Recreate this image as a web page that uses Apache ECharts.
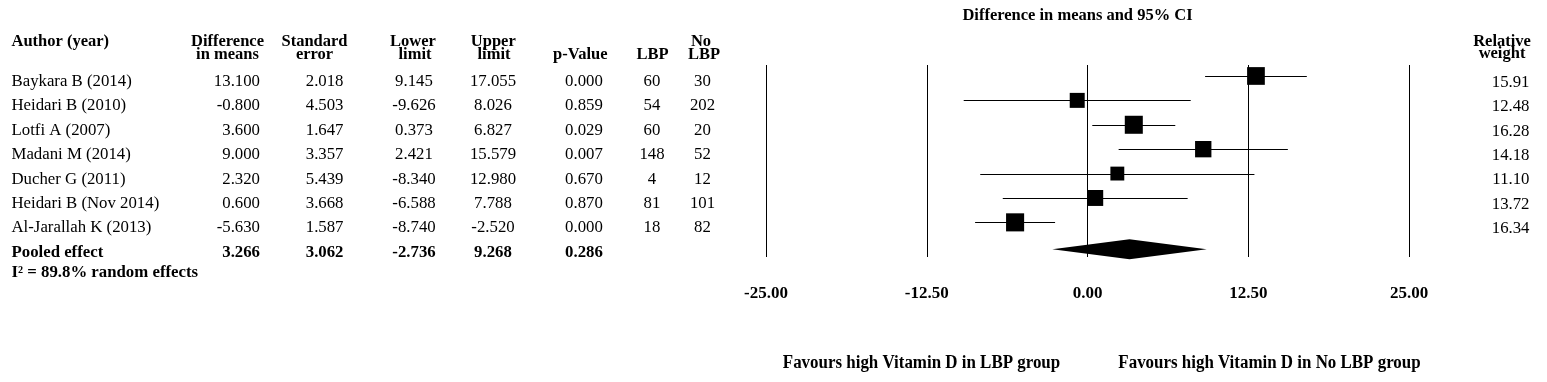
<!DOCTYPE html>
<html><head><meta charset="utf-8">
<script src="https://cdn.jsdelivr.net/npm/echarts@6/dist/echarts.min.js"></script>
<style>html,body{margin:0;padding:0;background:#fff}#c{width:1547px;height:382px}</style>
</head><body><div id="c"></div>
<script>
// ---- data ----
const authors = ['Baykara B (2014)', 'Heidari B (2010)', 'Lotfi A (2007)', 'Madani M (2014)', 'Ducher G (2011)', 'Heidari B (Nov 2014)', 'Al-Jarallah K (2013)'];
const diffMeans = [13.100, -0.800, 3.600, 9.000, 2.320, 0.600, -5.630];
const stdErr = [2.018, 4.503, 1.647, 3.357, 5.439, 3.668, 1.587];
const lowerLimit = [9.145, -9.626, 0.373, 2.421, -8.340, -6.588, -8.740];
const upperLimit = [17.055, 8.026, 6.827, 15.579, 12.980, 7.788, -2.520];
const pValues = [0.000, 0.859, 0.029, 0.007, 0.670, 0.870, 0.000];
const nLBP = [60, 54, 60, 148, 4, 81, 18];
const nNoLBP = [30, 202, 20, 52, 12, 101, 82];
const relWeight = [15.91, 12.48, 16.28, 14.18, 11.10, 13.72, 16.34];
const pooledLabel = 'Pooled effect';
const pooledRow = [3.266, 3.062, -2.736, 9.268, 0.286]; // diff, se, lower, upper, p
const heterogeneityText = 'I\u00B2 = 89.8% random effects';
const xTickMin = -25, xTickMax = 25, xTickStep = 12.5;
const plotTitle = 'Difference in means and 95% CI';
const favoursLeft = 'Favours high Vitamin D in LBP group';
const favoursRight = 'Favours high Vitamin D in No LBP group';

// ---- chart ----
const FONT = '"Liberation Serif", "Times New Roman", serif';
const chart = echarts.init(document.getElementById('c'), null, {renderer: 'canvas'});
const pooledIndex = authors.length;

const ciData = authors.map((a, i) => [lowerLimit[i], upperLimit[i], i]);
const ptData = authors.map((a, i) => [diffMeans[i], i, relWeight[i]]);

chart.setOption({
  backgroundColor: '#fff',
  animation: false,
  grid: {left: 766, width: 643, top: 65, height: 192, containLabel: false},
  xAxis: {
    type: 'value', min: xTickMin, max: xTickMax, interval: xTickStep,
    axisLine: {show: false}, axisTick: {show: false},
    splitLine: {show: true, showMinLine: true, showMaxLine: true, lineStyle: {color: '#000', width: 1, type: 'solid'}},
    axisLabel: {formatter: v => v.toFixed(2), fontFamily: FONT, fontWeight: 'bold', fontSize: 17, color: '#000', margin: 28}
  },
  yAxis: {type: 'value', inverse: true, min: -0.45, max: 7.42, show: false, splitLine: {show: false}},
  series: [
    {
      type: 'custom', name: 'ci', data: ciData, z: 2,
      renderItem: (params, api) => {
        const p1 = api.coord([api.value(0), api.value(2)]);
        const p2 = api.coord([api.value(1), api.value(2)]);
        return {type: 'line', shape: {x1: p1[0], y1: Math.round(p1[1]) + 0.5, x2: p2[0], y2: Math.round(p2[1]) + 0.5}, style: {stroke: '#000', lineWidth: 1}};
      }
    },
    {
      type: 'scatter', name: 'study', data: ptData, z: 3, symbol: 'rect',
      symbolSize: v => v[2] * 0.8 + 5,
      itemStyle: {color: '#000', opacity: 1}
    },
    {
      type: 'custom', name: 'pooled', z: 3,
      data: [[pooledRow[2], pooledRow[0], pooledRow[3], pooledIndex]],
      renderItem: (params, api) => {
        const l = api.coord([api.value(0), api.value(3)]);
        const m = api.coord([api.value(1), api.value(3)]);
        const u = api.coord([api.value(2), api.value(3)]);
        const cy = m[1] + 2.5, h = 10;
        return {type: 'polygon', shape: {points: [[l[0], cy], [m[0], cy - h], [u[0], cy], [m[0], cy + h]]}, style: {fill: '#000'}};
      }
    }
  ]
});

// ---- table text (positioned on the same row scale) ----
const rowY = i => chart.convertToPixel({yAxisIndex: 0}, i);
const els = [];
function txt(x, y, text, align, bold, size, extra) {
  els.push(Object.assign({
    type: 'text', x: x, y: y, silent: true,
    style: {text: text, textAlign: align, textVerticalAlign: 'middle', fontFamily: FONT,
      fontWeight: bold ? 'bold' : 'normal', fontSize: size || 16.8, fill: '#000'}
  }, extra || {}));
}
const col = {author: 11.5, diff: 260, se: 343.5, lower: 414, upper: 493, p: 584, lbp: 652, nolbp: 702.5, weight: 1529.5};
const H1 = 42, H2 = 54.5, HS = 16.5;
// headers
txt(col.author, 41.7, 'Author (year)', 'left', true, HS);
txt(227.5, H1, 'Difference', 'center', true, HS); txt(227.5, H2, 'in means', 'center', true, HS);
txt(314.5, H1, 'Standard', 'center', true, HS); txt(314.5, H2, 'error', 'center', true, HS);
txt(413, H1, 'Lower', 'center', true, HS); txt(415, H2, 'limit', 'center', true, HS);
txt(493.3, H1, 'Upper', 'center', true, HS); txt(494, H2, 'limit', 'center', true, HS);
txt(580.3, H2, 'p-Value', 'center', true, HS);
txt(652.5, H2, 'LBP', 'center', true, HS);
txt(701, H1, 'No', 'center', true, HS); txt(704, H2, 'LBP', 'center', true, HS);
txt(1502, 41.5, 'Relative', 'center', true, HS); txt(1502, 53.5, 'weight', 'center', true, HS);
txt(1077.5, 15.3, plotTitle, 'center', true, HS);
// rows
authors.forEach((a, i) => {
  const y = rowY(i) + 5.7;
  txt(col.author, y, a, 'left', false);
  txt(col.diff, y, diffMeans[i].toFixed(3), 'right', false);
  txt(col.se, y, stdErr[i].toFixed(3), 'right', false);
  txt(col.lower, y, lowerLimit[i].toFixed(3), 'center', false);
  txt(col.upper, y, upperLimit[i].toFixed(3), 'center', false);
  txt(col.p, y, pValues[i].toFixed(3), 'center', false);
  txt(col.lbp, y, String(nLBP[i]), 'center', false);
  txt(col.nolbp, y, String(nNoLBP[i]), 'center', false);
  txt(col.weight, rowY(i) + 6.5, relWeight[i].toFixed(2), 'right', false);
});
{
  const y = rowY(pooledIndex) + 5.7;
  txt(col.author, y, pooledLabel, 'left', true);
  txt(col.diff, y, pooledRow[0].toFixed(3), 'right', true);
  txt(col.se, y, pooledRow[1].toFixed(3), 'right', true);
  txt(col.lower, y, pooledRow[2].toFixed(3), 'center', true);
  txt(col.upper, y, pooledRow[3].toFixed(3), 'center', true);
  txt(col.p, y, pooledRow[4].toFixed(3), 'center', true);
  txt(col.author, y + 20.7, heterogeneityText, 'left', true);
}
txt(921.5, 363, favoursLeft, 'center', true, 18, {scaleX: 0.94});
txt(1269.5, 363, favoursRight, 'center', true, 18, {scaleX: 0.94});

chart.setOption({graphic: {elements: els}});
</script>
</body></html>
